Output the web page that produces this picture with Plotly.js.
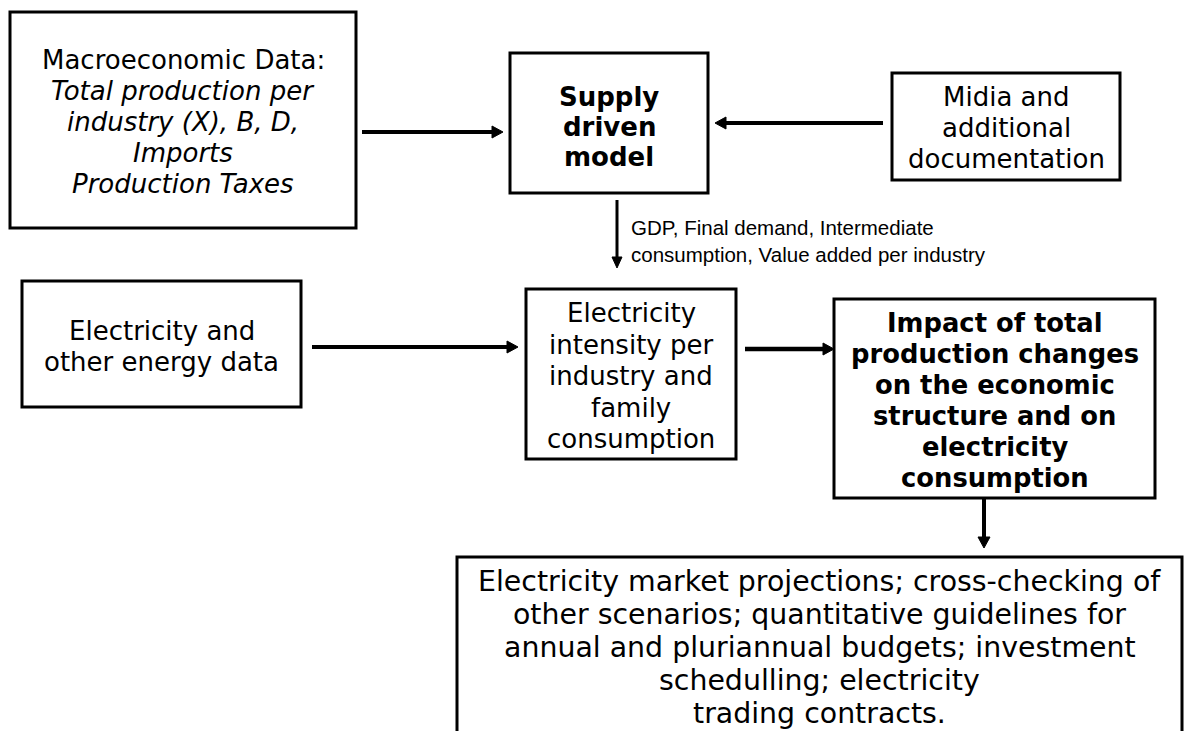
<!DOCTYPE html>
<html>
<head>
<meta charset="utf-8">
<script src="https://cdn.plot.ly/plotly-3.0.1.min.js"></script>
<style>html,body{margin:0;padding:0;background:#fff;}#chart{width:1184px;height:731px;}</style>
</head>
<body>
<div id="chart"></div>
<script>
// ---- Content (text of each node) ----
const macroLines = ["Macroeconomic Data:", "Total production per", "industry (X), B, D,", "Imports", "Production Taxes"];
const macroItalic = [false, true, true, true, true];
const supplyLines = ["Supply", "driven", "model"];
const midiaLines = ["Midia and", "additional", "documentation"];
const energyLines = ["Electricity and", "other energy data"];
const intensityLines = ["Electricity", "intensity per", "industry and", "family", "consumption"];
const impactLines = ["Impact of total", "production changes", "on the economic", "structure and on", "electricity", "consumption"];
const outputLines = ["Electricity market projections; cross-checking of", "other scenarios; quantitative guidelines for", "annual and pluriannual budgets; investment", "schedulling; electricity", "trading contracts."];
const flowLabelLines = ["GDP, Final demand, Intermediate", "consumption, Value added per industry"];

// ---- Layout geometry (pixels) ----
const nodes = [
  {lines: macroLines, italic: macroItalic, bold: false, box: [10, 12, 356, 228], cy: 122, gap: 31, size: 26},
  {lines: supplyLines, bold: true, box: [510, 53, 708, 193], cy: 127, gap: 30, size: 26},
  {lines: midiaLines, bold: false, box: [892, 73, 1120, 180], cy: 128, gap: 31, size: 26},
  {lines: energyLines, bold: false, box: [22, 281, 301, 407], cy: 346, gap: 31, size: 26},
  {lines: intensityLines, bold: false, box: [526, 289, 736, 459], cy: 376, gap: 31.5, size: 26},
  {lines: impactLines, bold: true, box: [834, 299, 1155, 498], cy: 400, gap: 31, size: 25.8},
  {lines: outputLines, bold: false, box: [457, 557, 1182, 800], cy: 647, gap: 33, size: 28.4}
];
// arrows: [x0, y0, x1(tip), y1(tip), lineWidth, headLen, headHalf]
const arrows = [
  [362, 132, 503, 132, 4, 11, 6],
  [883, 123, 715, 123, 4, 11, 6],
  [617, 200, 617, 268, 3, 11, 5],
  [312, 347, 518, 347, 4, 11, 6],
  [745, 349, 834, 349, 4.5, 11, 6],
  [984, 498, 984, 548, 4, 11, 6]
];

const shapes = [];
const annotations = [];
const FONT = "DejaVu Sans, Verdana, sans-serif";

nodes.forEach(n => {
  const [x0, y0, x1, y1] = n.box;
  shapes.push({type: 'rect', xref: 'x', yref: 'y', x0: x0, y0: y0, x1: x1, y1: y1,
    line: {color: '#000', width: 3}, fillcolor: 'rgba(0,0,0,0)', layer: 'above'});
  const cx = (x0 + x1) / 2;
  const k = n.lines.length;
  n.lines.forEach((t, i) => {
    let txt = t;
    if (n.italic && n.italic[i]) txt = '<i>' + txt + '</i>';
    if (n.bold) txt = '<b>' + txt + '</b>';
    annotations.push({xref: 'x', yref: 'y', x: cx, y: n.cy + (i - (k - 1) / 2) * n.gap,
      text: txt, showarrow: false, xanchor: 'center', yanchor: 'middle',
      font: {family: FONT, size: n.size, color: '#000'}});
  });
});

arrows.forEach(a => {
  const [x0, y0, x1, y1, w, hl, hw] = a;
  const dx = Math.sign(x1 - x0), dy = Math.sign(y1 - y0);
  const bx = x1 - dx * hl, by = y1 - dy * hl;
  shapes.push({type: 'line', xref: 'x', yref: 'y', x0: x0, y0: y0, x1: bx + dx, y1: by + dy,
    line: {color: '#000', width: w}});
  const px = -dy * hw, py = dx * hw;
  shapes.push({type: 'path', xref: 'x', yref: 'y',
    path: `M ${x1} ${y1} L ${bx + px} ${by + py} L ${bx - px} ${by - py} Z`,
    fillcolor: '#000', line: {color: '#000', width: 1}});
});

flowLabelLines.forEach((t, i) => {
  annotations.push({xref: 'x', yref: 'y', x: 629, y: 227 + i * 27, text: t, showarrow: false,
    xanchor: 'left', yanchor: 'middle', font: {family: 'Liberation Sans, Arial, sans-serif', size: 20.5, color: '#000'}});
});

const layout = {
  width: 1184, height: 731,
  margin: {l: 0, r: 0, t: 0, b: 0, pad: 0},
  paper_bgcolor: '#fff', plot_bgcolor: '#fff',
  xaxis: {range: [0, 1184], visible: false, fixedrange: true},
  yaxis: {range: [731, 0], visible: false, fixedrange: true},
  showlegend: false,
  shapes: shapes,
  annotations: annotations
};
Plotly.newPlot('chart', [{x: [], y: [], type: 'scatter', mode: 'markers', hoverinfo: 'skip', showlegend: false}], layout, {displayModeBar: false, staticPlot: true});
</script>
</body>
</html>
